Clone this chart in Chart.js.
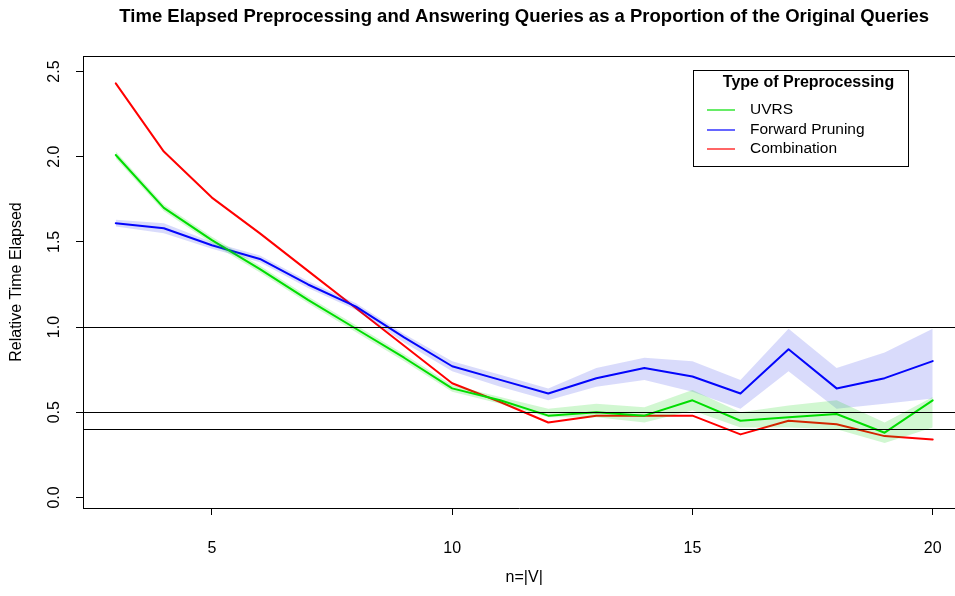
<!DOCTYPE html>
<html>
<head>
<meta charset="utf-8">
<script src="https://cdn.jsdelivr.net/npm/chart.js@4/dist/chart.umd.min.js"></script>
<style>
  html, body { margin: 0; padding: 0; background: #fff; }
  #wrap { width: 955px; height: 596px; position: relative; }
</style>
</head>
<body>
<div id="wrap"><canvas id="c" width="955" height="596"></canvas></div>
<script>
// ---- data ----
const nValues   = [3, 4, 5, 6, 7, 8, 9, 10, 11, 12, 13, 14, 15, 16, 17, 18, 19, 20];
const uvrs      = [2.01, 1.70, 1.51, 1.34, 1.16, 0.99, 0.82, 0.64, 0.57, 0.48, 0.50, 0.48, 0.57, 0.45, 0.47, 0.49, 0.38, 0.57];
const uvrsHigh  = [2.03, 1.72, 1.53, 1.36, 1.18, 1.01, 0.84, 0.66, 0.59, 0.52, 0.55, 0.53, 0.63, 0.50, 0.54, 0.57, 0.44, 0.59];
const uvrsLow   = [1.99, 1.68, 1.49, 1.32, 1.14, 0.97, 0.80, 0.62, 0.55, 0.47, 0.47, 0.44, 0.51, 0.41, 0.41, 0.40, 0.32, 0.41];
const fwd       = [1.61, 1.58, 1.48, 1.40, 1.25, 1.12, 0.94, 0.77, 0.69, 0.61, 0.70, 0.76, 0.71, 0.61, 0.87, 0.64, 0.70, 0.80];
const fwdHigh   = [1.63, 1.61, 1.50, 1.42, 1.27, 1.14, 0.96, 0.80, 0.72, 0.64, 0.76, 0.82, 0.80, 0.69, 0.99, 0.76, 0.85, 0.99];
const fwdLow    = [1.59, 1.55, 1.46, 1.38, 1.23, 1.10, 0.91, 0.74, 0.65, 0.57, 0.65, 0.69, 0.62, 0.52, 0.74, 0.52, 0.55, 0.58];
const combo     = [2.43, 2.03, 1.76, 1.55, 1.33, 1.11, 0.89, 0.67, 0.56, 0.44, 0.48, 0.48, 0.48, 0.37, 0.45, 0.43, 0.36, 0.34];
const xTicks    = [5, 10, 15, 20];
const yTicks    = [0.0, 0.5, 1.0, 1.5, 2.0, 2.5];
const yTickLabels = ['0.0', '0.5', '1.0', '1.5', '2.0', '2.5'];
const refLines  = [1.0, 0.5, 0.4];
const seriesNames = ['UVRS', 'Forward Pruning', 'Combination'];
const titleText = 'Time Elapsed Preprocessing and Answering Queries as a Proportion of the Original Queries';
const xTitle = 'n=|V|';
const yTitle = 'Relative Time Elapsed';
const legendTitle = 'Type of Preprocessing';

const GREEN = '#00e000', BLUE = '#0000ff', RED = '#ff0000';
const FONT = '"Liberation Sans", Arial, sans-serif';

const pts = arr => arr.map((v, i) => ({ x: nValues[i], y: v }));

const bandDs = (data, fill, bg) => ({
  data: pts(data), borderWidth: 0, pointRadius: 0, fill: fill,
  backgroundColor: bg, borderColor: 'rgba(0,0,0,0)', tension: 0
});
const lineDs = (label, data, color) => ({
  label, data: pts(data), borderColor: color, borderWidth: 2, pointRadius: 0,
  fill: false, tension: 0, borderJoinStyle: 'round', borderCapStyle: 'round'
});

const decor = {
  id: 'decor',
  afterDatasetsDraw(chart) {
    const ctx = chart.ctx, a = chart.chartArea;
    const xs = chart.scales.x, ys = chart.scales.y;
    ctx.save();
    // reference lines
    ctx.strokeStyle = '#000'; ctx.lineWidth = 1;
    refLines.forEach(v => {
      const y = Math.round(ys.getPixelForValue(v)) + 0.5;
      ctx.beginPath(); ctx.moveTo(a.left, y); ctx.lineTo(a.right, y); ctx.stroke();
    });
    // top border
    ctx.beginPath(); ctx.moveTo(a.left, a.top + 0.5); ctx.lineTo(a.right, a.top + 0.5); ctx.stroke();
    // y tick labels (rotated)
    ctx.fillStyle = '#000';
    ctx.font = '16px ' + FONT;
    ctx.textAlign = 'center'; ctx.textBaseline = 'middle';
    yTicks.forEach((v, i) => {
      const y = ys.getPixelForValue(v);
      ctx.save(); ctx.translate(55, y); ctx.rotate(-Math.PI / 2);
      ctx.fillText(yTickLabels[i], 0, 0); ctx.restore();
    });
    // axis titles
    const cx = (xs.getPixelForValue(2.32) + xs.getPixelForValue(20.68)) / 2;
    ctx.fillText(xTitle, cx, 578);
    ctx.save(); ctx.translate(17, (a.top + a.bottom) / 2); ctx.rotate(-Math.PI / 2);
    ctx.fillText(yTitle, 0, 0); ctx.restore();
    // main title
    ctx.font = 'bold 18.5px ' + FONT;
    ctx.fillText(titleText, cx, 17);
    // legend
    const lx = 693, ly = 70, lw = 215, lh = 96;
    ctx.lineWidth = 1; ctx.strokeStyle = '#000';
    ctx.fillStyle = '#fff';
    ctx.fillRect(lx, ly, lw, lh);
    ctx.strokeRect(lx + 0.5, ly + 0.5, lw, lh);
    ctx.fillStyle = '#000';
    ctx.font = 'bold 16px ' + FONT;
    ctx.fillText(legendTitle, lx + lw / 2 + 8, ly + 13);
    const colors = [GREEN, BLUE, RED];
    ctx.font = '15.5px ' + FONT;
    ctx.textAlign = 'left';
    seriesNames.forEach((name, i) => {
      const yy = ly + 40 + i * 19.5;
      ctx.strokeStyle = colors[i]; ctx.lineWidth = 1.2;
      ctx.beginPath(); ctx.moveTo(lx + 14, Math.round(yy)); ctx.lineTo(lx + 42, Math.round(yy)); ctx.stroke();
      ctx.fillStyle = '#000';
      ctx.fillText(name, lx + 57, yy);
    });
    ctx.restore();
  }
};

new Chart(document.getElementById('c'), {
  type: 'line',
  data: {
    datasets: [
      bandDs(uvrsHigh, '+1', 'rgba(0,210,0,0.18)'),
      bandDs(uvrsLow, false, 'rgba(0,0,0,0)'),
      bandDs(fwdHigh, '+1', 'rgba(20,30,230,0.16)'),
      bandDs(fwdLow, false, 'rgba(0,0,0,0)'),
      lineDs(seriesNames[0], uvrs, GREEN),
      lineDs(seriesNames[1], fwd, BLUE),
      lineDs(seriesNames[2], combo, RED)
    ]
  },
  options: {
    responsive: false, animation: false, devicePixelRatio: 1,
    layout: { padding: { top: 56, right: 0, left: 0, bottom: 0 } },
    plugins: { legend: { display: false }, title: { display: false }, tooltip: { enabled: false } },
    scales: {
      x: {
        type: 'linear', min: 2.318, max: 20.464,
        afterBuildTicks: s => { s.ticks = xTicks.map(v => ({ value: v })); },
        afterFit: s => { s.height = 88; s.paddingLeft = 0; s.paddingRight = 0; },
        grid: { drawOnChartArea: false, drawTicks: true, tickLength: 7, color: '#000', lineWidth: 1 },
        border: { display: true, color: '#000', width: 1 },
        ticks: { color: '#000', font: { family: FONT, size: 16 }, padding: 24, maxRotation: 0, autoSkip: false }
      },
      y: {
        type: 'linear', min: -0.062, max: 2.591,
        afterBuildTicks: s => { s.ticks = yTicks.map(v => ({ value: v })); },
        afterFit: s => { s.width = 83; s.paddingTop = 0; s.paddingBottom = 0; },
        grid: { drawOnChartArea: false, drawTicks: true, tickLength: 7, color: '#000', lineWidth: 1 },
        border: { display: true, color: '#000', width: 1 },
        ticks: { display: false }
      }
    }
  },
  plugins: [decor]
});
</script>
</body>
</html>
